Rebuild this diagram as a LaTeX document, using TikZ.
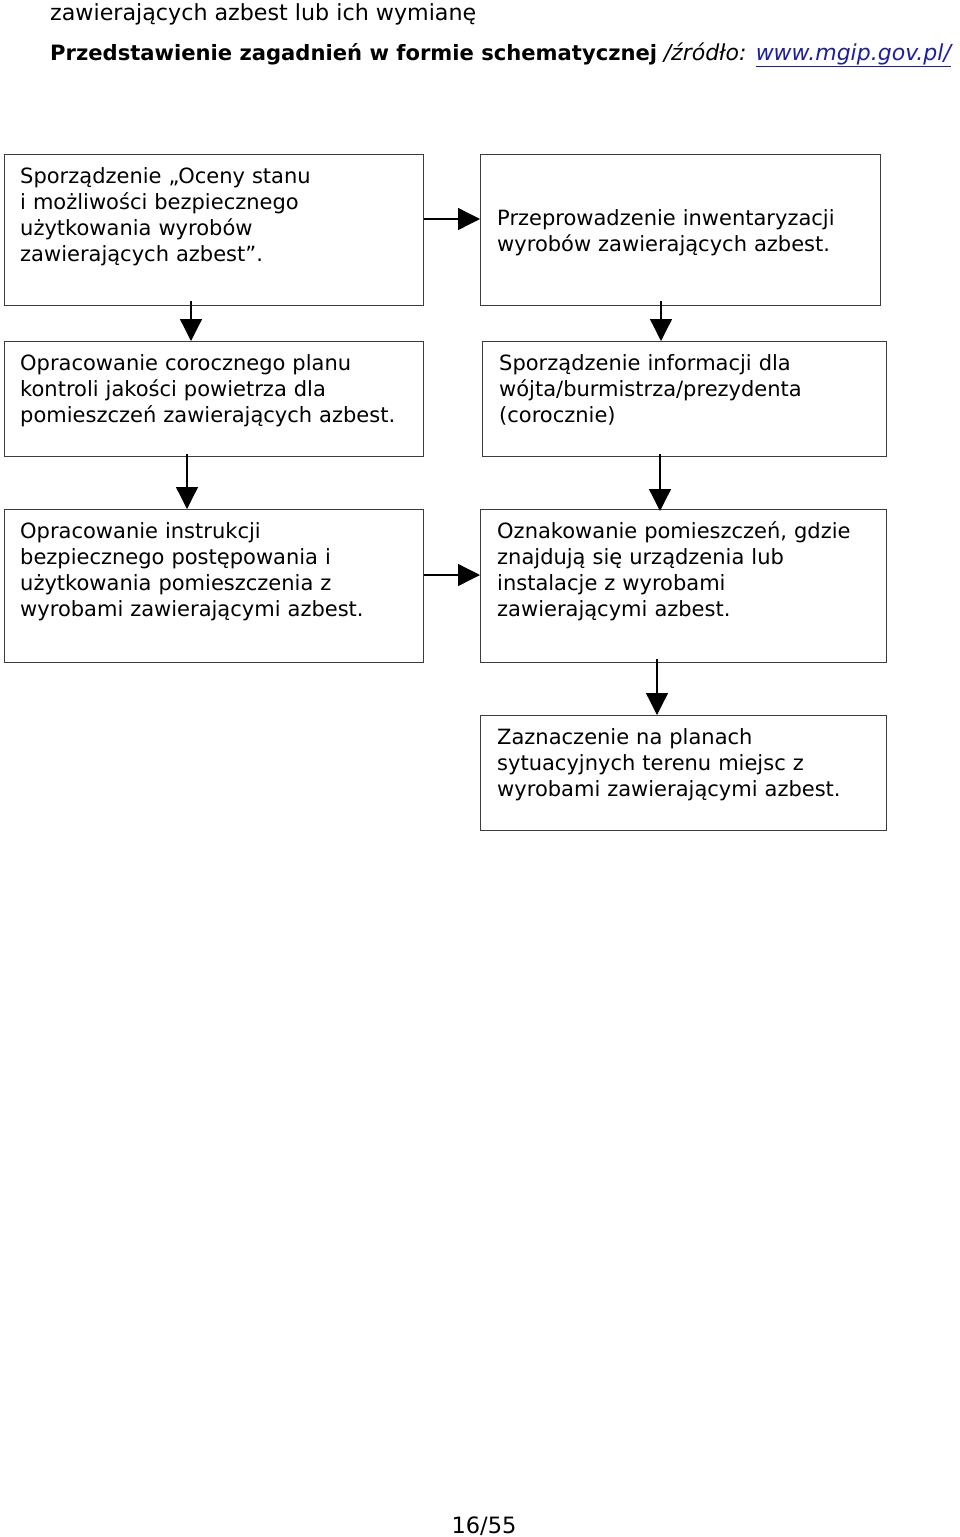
\documentclass[tikz,border=0pt]{standalone}
\usepackage{fontspec}
\setmainfont{DejaVu Sans}
\usetikzlibrary{arrows.meta}
\definecolor{linkblue}{RGB}{30,30,160}
\definecolor{boxline}{RGB}{60,60,60}
\begin{document}
\begin{tikzpicture}[x=1pt,y=-1pt,
  box/.style={draw=boxline,line width=1.2pt,rectangle,inner sep=0pt,anchor=north west},
  txt/.style={anchor=base west,align=left,inner sep=0pt,text width=400pt,font=\fontsize{21}{26}\selectfont},
  arr/.style={line width=1.3pt,-{Triangle[length=22pt,width=22pt]}}]
\useasboundingbox (0,0) rectangle (960,1537);
\fill[white] (0,0) rectangle (960,1537);
% header
\node[anchor=base west,inner sep=0pt,font=\fontsize{22.2}{26}\selectfont] (h1) at (50,20) {zawierających azbest lub ich wymianę};
\node[anchor=base west,inner sep=0pt] (h2) at (50,60) {\fontsize{21.1}{24}\selectfont\textbf{Przedstawienie zagadnień w formie schematycznej} \fontsize{22}{24}\selectfont\textit{/źródło: \textcolor{linkblue}{\underline{www.mgip.gov.pl/}}}};
% boxes
\node[box,minimum width=419pt,minimum height=151pt] (b1) at (4,154) {};
\node[box,minimum width=400pt,minimum height=151pt] (b2) at (480,154) {};
\node[box,minimum width=419pt,minimum height=115pt] (b3) at (4,341) {};
\node[box,minimum width=404pt,minimum height=115pt] (b4) at (482,341) {};
\node[box,minimum width=419pt,minimum height=153pt] (b5) at (4,509) {};
\node[box,minimum width=406pt,minimum height=153pt] (b6) at (480,509) {};
\node[box,minimum width=406pt,minimum height=115pt] (b7) at (480,715) {};
% texts
\node[txt] (t1) at (20,183) {Sporządzenie „Oceny stanu\\i możliwości bezpiecznego\\użytkowania wyrobów\\zawierających azbest”.};
\node[txt] (t2) at (497,225) {Przeprowadzenie inwentaryzacji\\wyrobów zawierających azbest.};
\node[txt] (t3) at (20,370) {Opracowanie corocznego planu\\kontroli jakości powietrza dla\\pomieszczeń zawierających azbest.};
\node[txt] (t4) at (499,370) {Sporządzenie informacji dla\\wójta/burmistrza/prezydenta\\(corocznie)};
\node[txt] (t5) at (20,538) {Opracowanie instrukcji\\bezpiecznego postępowania i\\użytkowania pomieszczenia z\\wyrobami zawierającymi azbest.};
\node[txt] (t6) at (497,538) {Oznakowanie pomieszczeń, gdzie\\znajdują się urządzenia lub\\instalacje z wyrobami\\zawierającymi azbest.};
\node[txt] (t7) at (497,744) {Zaznaczenie na planach\\sytuacyjnych terenu miejsc z\\wyrobami zawierającymi azbest.};
% arrows
\draw[arr] (b1.east |- 0,219) -- (b2.west |- 0,219);
\draw[arr] ([yshift=5pt]b1.south -| 191,0) -- (b3.north -| 191,0);
\draw[arr] ([yshift=5pt]b2.south -| 661,0) -- (b4.north -| 661,0);
\draw[arr] ([yshift=3pt]b3.south -| 187,0) -- (b5.north -| 187,0);
\draw[arr] ([yshift=3pt]b4.south -| 660,0) -- ([yshift=-2pt]b6.north -| 660,0);
\draw[arr] (b5.east |- 0,575) -- (b6.west |- 0,575);
\draw[arr] ([yshift=4pt]b6.south -| 657,0) -- (b7.north -| 657,0);
% footer
\node[anchor=base,inner sep=0pt,font=\fontsize{22.5}{26}\selectfont] (pg) at (484,1533) {16/55};
\end{tikzpicture}
\end{document}
